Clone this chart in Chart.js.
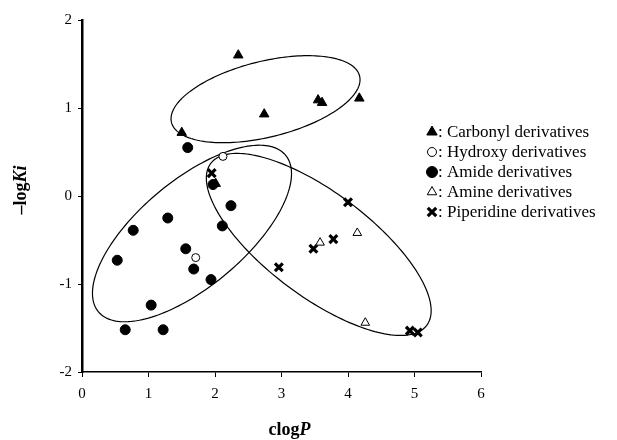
<!DOCTYPE html>
<html>
<head>
<meta charset="utf-8">
<script src="https://cdn.jsdelivr.net/npm/chart.js@4/dist/chart.umd.min.js"></script>
<style>
  html, body { margin: 0; padding: 0; background: #fff; }
  #wrap { width: 617px; height: 440px; }
</style>
</head>
<body>
<div id="wrap"><canvas id="c" width="617" height="440"></canvas></div>
<script>
// ---- Data ----
const xTicks = [0, 1, 2, 3, 4, 5, 6];
const yTicks = [-2, -1, 0, 1, 2];

const carbonylX = [2.35, 2.74, 3.55, 3.61, 4.17, 1.50, 2.01];
const carbonylY = [1.60, 0.93, 1.09, 1.06, 1.11, 0.72, 0.14];

const hydroxyX = [2.12, 1.71];
const hydroxyY = [0.45, -0.70];

const amideX = [1.59, 1.97, 2.24, 1.29, 2.11, 0.77, 0.53, 1.56, 1.68, 1.94, 1.04, 0.65, 1.22];
const amideY = [0.55, 0.13, -0.11, -0.25, -0.34, -0.39, -0.73, -0.60, -0.83, -0.95, -1.24, -1.52, -1.52];

const amineX = [3.58, 4.14, 4.26];
const amineY = [-0.53, -0.42, -1.44];

const piperidineX = [1.95, 4.00, 3.78, 3.48, 2.96, 4.93, 5.05];
const piperidineY = [0.26, -0.07, -0.49, -0.60, -0.81, -1.53, -1.55];

const seriesLabels = ['Carbonyl derivatives', 'Hydroxy derivatives', 'Amide derivatives', 'Amine derivatives', 'Piperidine derivatives'];

// Cluster ellipses: centre and two conjugate semi-axis vectors, in data units
const ellipseCentres = [[2.76, 1.10], [1.654, -0.426], [3.56, -0.55]];
const ellipseAxisA = [[1.421, 0.222], [1.406, 0.891], [1.624, -0.920]];
const ellipseAxisB = [[0.0, -0.442], [0.513, -0.461], [-0.469, -0.473]];

function pts(xs, ys) { return xs.map((x, i) => ({ x: x, y: ys[i] })); }

const SERIF = '"Liberation Serif", "DejaVu Serif", serif';

const styles = [
  { pointStyle: 'triangle', radius: 5.5, bg: '#000', border: '#000', bw: 1 },
  { pointStyle: 'circle', radius: 4, bg: '#fff', border: '#000', bw: 1 },
  { pointStyle: 'circle', radius: 5, bg: '#000', border: '#000', bw: 1 },
  { pointStyle: 'triangle', radius: 5, bg: '#fff', border: '#000', bw: 1 },
  { pointStyle: 'crossRot', radius: 5.5, bg: '#000', border: '#000', bw: 3.2 }
];

const seriesData = [
  pts(carbonylX, carbonylY),
  pts(hydroxyX, hydroxyY),
  pts(amideX, amideY),
  pts(amineX, amineY),
  pts(piperidineX, piperidineY)
];

const datasets = seriesData.map((d, i) => ({
  label: seriesLabels[i],
  data: d,
  pointStyle: styles[i].pointStyle,
  pointRadius: styles[i].radius,
  pointHoverRadius: styles[i].radius,
  backgroundColor: styles[i].bg,
  borderColor: styles[i].border,
  borderWidth: styles[i].bw,
  showLine: false
}));

const ellipsePlugin = {
  id: 'ellipses',
  beforeDatasetsDraw(chart) {
    const ctx = chart.ctx, xs = chart.scales.x, ys = chart.scales.y;
    ctx.save();
    ctx.strokeStyle = '#000';
    ctx.lineWidth = 1.2;
    ellipseCentres.forEach((c, k) => {
      const A = ellipseAxisA[k], B = ellipseAxisB[k];
      ctx.beginPath();
      const n = 180;
      for (let i = 0; i <= n; i++) {
        const t = i / n * Math.PI * 2;
        const dx = c[0] + Math.cos(t) * A[0] + Math.sin(t) * B[0];
        const dy = c[1] + Math.cos(t) * A[1] + Math.sin(t) * B[1];
        const px = xs.getPixelForValue(dx), py = ys.getPixelForValue(dy);
        if (i === 0) ctx.moveTo(px, py); else ctx.lineTo(px, py);
      }
      ctx.closePath();
      ctx.stroke();
    });
    ctx.restore();
  }
};

const legendPlugin = {
  id: 'customLegend',
  afterDraw(chart) {
    const ctx = chart.ctx;
    const x0 = 432, y0 = 132, step = 20;
    chart.data.datasets.forEach((ds, i) => {
      const y = y0 + i * step;
      ctx.save();
      ctx.fillStyle = ds.backgroundColor;
      ctx.strokeStyle = ds.borderColor;
      ctx.lineWidth = ds.borderWidth;
      Chart.helpers.drawPoint(ctx, { pointStyle: ds.pointStyle, radius: ds.pointRadius + 0.5, borderWidth: ds.borderWidth }, x0, y);
      ctx.restore();
      ctx.save();
      ctx.fillStyle = '#000';
      ctx.font = '17px ' + SERIF;
      ctx.textBaseline = 'middle';
      ctx.textAlign = 'left';
      ctx.fillText(': ' + ds.label, x0 + 6, y + 1);
      ctx.restore();
    });
  }
};

const titlePlugin = {
  id: 'axisTitles',
  afterDraw(chart) {
    const ctx = chart.ctx, area = chart.chartArea;
    ctx.save();
    ctx.fillStyle = '#000';
    ctx.textBaseline = 'middle';
    const normal = 'bold 18px ' + SERIF, ital = 'italic bold 18px ' + SERIF;
    ctx.font = normal; const w1 = ctx.measureText('clog').width;
    ctx.font = ital; const w2 = ctx.measureText('P').width;
    let sx = (area.left + area.right) / 2 + 8 - (w1 + w2) / 2;
    const ty = 430;
    ctx.font = normal; ctx.textAlign = 'left'; ctx.fillText('clog', sx, ty);
    ctx.font = ital; ctx.fillText('P', sx + w1, ty);
    ctx.translate(21, (area.top + area.bottom) / 2 - 6);
    ctx.rotate(-Math.PI / 2);
    ctx.font = normal; const v1 = ctx.measureText('\u2013log').width;
    ctx.font = ital; const v2 = ctx.measureText('Ki').width;
    const vx = -(v1 + v2) / 2;
    ctx.font = normal; ctx.fillText('\u2013log', vx, 0);
    ctx.font = ital; ctx.fillText('Ki', vx + v1, 0);
    ctx.restore();
  }
};

new Chart(document.getElementById('c'), {
  type: 'scatter',
  data: { datasets: datasets },
  options: {
    responsive: false,
    animation: false,
    layout: { padding: { left: 0, right: 136, top: 20, bottom: 0 } },
    plugins: { legend: { display: false }, tooltip: { enabled: false } },
    scales: {
      x: {
        type: 'linear', min: 0, max: 6,
        afterFit(s) { s.height = 68; },
        afterBuildTicks(s) { s.ticks = xTicks.map(v => ({ value: v })); },
        border: { display: true, color: '#000', width: 1.5 },
        grid: { drawOnChartArea: false, drawTicks: true, tickLength: 5, color: '#000', lineWidth: 1 },
        ticks: { color: '#000', font: { family: SERIF, size: 15 }, padding: 8 }
      },
      y: {
        type: 'linear', min: -2, max: 2,
        afterFit(s) { s.width = 82; },
        afterBuildTicks(s) { s.ticks = yTicks.map(v => ({ value: v })); },
        border: { display: true, color: '#000', width: 2.5 },
        grid: { drawOnChartArea: false, drawTicks: true, tickLength: 4, color: '#000', lineWidth: 1 },
        ticks: { color: '#000', font: { family: SERIF, size: 15 }, padding: 6 }
      }
    }
  },
  plugins: [ellipsePlugin, legendPlugin, titlePlugin]
});
</script>
</body>
</html>
